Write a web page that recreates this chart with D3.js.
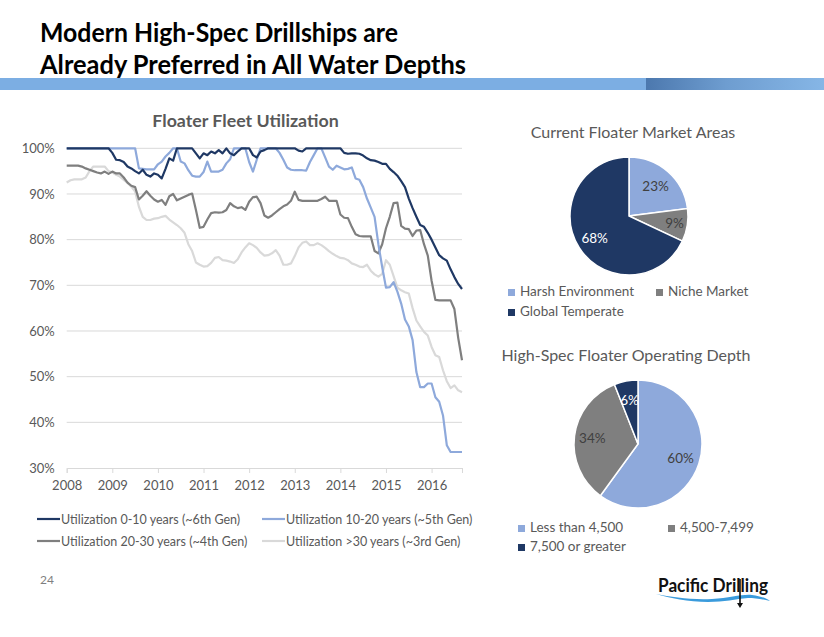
<!DOCTYPE html>
<html><head><meta charset="utf-8">
<script src="https://cdn.jsdelivr.net/npm/d3@7/dist/d3.min.js"></script>
<style>body{margin:0;background:#fff}svg{display:block}text{font-family:Lato,"Open Sans",sans-serif}</style>
</head><body><svg id="c" width="824" height="637"></svg>
<script>
// ---------- DATA ----------
const yearLabels = ["2008","2009","2010","2011","2012","2013","2014","2015","2016"];
const yTicks = [0.3,0.4,0.5,0.6,0.7,0.8,0.9,1.0];
const seriesNames = ["Utilization 0-10 years (~6th Gen)","Utilization 10-20 years (~5th Gen)","Utilization 20-30 years (~4th Gen)","Utilization >30 years (~3rd Gen)"];
// monthly utilization (%) from Jan 2008
const gen6 = [
100,100,100,100,100,100,100,100,100,100,100,100,
99,97.5,97.4,97,96,95.6,95,94.5,95.3,94.2,93.8,94.5,
94.2,93.4,95.5,97.8,97.3,100,100,100,100,100,98.9,97.8,
98.9,98.5,99.3,98.9,99.6,98.9,100,98.9,98.5,99.3,100,100,
100,98.5,98,99.3,99.6,100,100,100,100,100,100,100,
100,99.5,99.3,100,100,100,100,100,100,100,100,100,
100,99,98.8,98.9,98.9,98.8,98.4,97.8,97.4,97.3,97,96.6,
96.6,95.5,94.8,94,92.8,91.5,89,86.9,85,83.2,82.8,81.5,
80,78.3,76.6,75.9,75.4,73.5,71.8,70.3,69.2];
const gen5 = [
100,100,100,100,100,100,100,100,100,100,100,100,
100,100,100,100,100,100,100,95.6,95.5,95.4,95.4,95.4,
96.5,97.1,98.2,99,100,100,97.1,96.7,95.2,94,93.8,93.8,
94.8,97.1,94.9,94.9,94.9,95.3,96.7,97.6,100,100,100,100,
97,94.9,97.5,100,100,100,100,100,99,97.5,95.8,95.3,
95.2,95.2,95.2,95.1,97,98.5,100,100,98,96,95.3,96.2,
95.8,95.4,95.5,95.8,93.4,93.1,91.5,89,87,85,79,74,
69.5,69.6,70.7,68.6,66,62.5,61,58,51,47.7,47.7,48.5,
48.5,45.5,44.5,41.5,35,33.5,33.5,33.5,33.5];
const gen4 = [
96.2,96.2,96.2,96.2,96,95.6,95.3,95,94.7,94.5,94.9,94.4,
94.9,94.5,94.5,93.6,92.5,91.8,91.5,88.8,89.6,90.6,89.6,88.8,
88.3,88.7,87.6,89.5,90,88.6,89,89.4,89.8,90.1,86.5,82.6,
82.8,84.4,85.8,86,85.9,86,86.5,88,87.3,86.9,87.1,86.5,
88.3,89.3,89.4,88,85.3,84.8,85.3,86,86.7,87.3,87.7,88.5,
90.5,88.7,88.5,88.5,88.5,88.5,88.5,88.9,89.4,88.5,88.5,88.5,
85.5,84.8,84.7,82.8,81.2,80.8,80.7,80.7,80.7,77.5,77,79,
82.5,85,88,88.1,83,82.4,82.3,80.8,82,82.1,79,76.5,
71,66.8,66.7,66.7,66.7,66.7,64.8,58.5,53.6];
const gen3 = [
92.5,93,93.2,93.2,93.2,93.6,95,96,96,96,96,95,
94.7,94.2,93.8,93.1,92.4,91.6,90.5,87.2,85,84.3,84.3,84.6,
84.7,85,85.2,84.4,83.8,83.2,82.5,81.5,79,77.5,75,74.5,
74.1,74.2,74.9,76,76.2,75.5,75.4,75.2,74.9,75.7,77.2,78.3,
79.2,78.8,78.2,77.2,76.5,76.6,77,77.7,76.5,74.5,74.5,74.8,
76.4,78.3,79.3,79.6,78.8,78.8,79.2,78.8,78.2,77.5,76.9,76.4,
76,75.9,75.5,74.8,74.5,74.1,74,74.5,73.2,72.4,71.9,72.5,
75.5,74.5,72,69.5,68.9,68.5,68.2,65,62.3,61,59.8,59,
56.5,54.7,54.3,51.4,49,47.5,48.1,47,46.6];
const seriesColors = ["#1F3864","#8EA9DB","#7F7F7F","#D9D9D9"];

const pie1Labels = ["Harsh Environment","Niche Market","Global Temperate"];
const pie1Values = [23,9,68];
const pie2Labels = ["Less than 4,500","4,500-7,499","7,500 or greater"];
const pie2Values = [60,34,6];
const pieColors = ["#8EA9DB","#7F7F7F","#1F3864"];
const pieTextColors = ["#404040","#404040","#ffffff"];

// ---------- DRAW ----------
const svg = d3.select("#c");
const textGray = "#595959";

// header band
const defs = svg.append("defs");
const grad = defs.append("linearGradient").attr("id","bandGrad").attr("x1","0").attr("x2","1").attr("y1","0").attr("y2","0");
grad.append("stop").attr("offset","0%").attr("stop-color","#4C78AE");
grad.append("stop").attr("offset","45%").attr("stop-color","#6E9DD0");
grad.append("stop").attr("offset","100%").attr("stop-color","#86B6E6");
svg.append("rect").attr("x",0).attr("y",78).attr("width",646).attr("height",12).attr("fill","#7CAEE3");
svg.append("rect").attr("x",646).attr("y",78).attr("width",178).attr("height",12).attr("fill","url(#bandGrad)");

// Slide title
svg.append("text").attr("x",40).attr("y",42).attr("font-size",26.5).attr("font-weight","bold").attr("fill","#000")
  .attr("textLength",358).attr("lengthAdjust","spacingAndGlyphs").text("Modern High-Spec Drillships are");
svg.append("text").attr("x",40).attr("y",74).attr("font-size",26.5).attr("font-weight","bold").attr("fill","#000")
  .attr("textLength",426).attr("lengthAdjust","spacingAndGlyphs").text("Already Preferred in All Water Depths");

// Line chart
const x = d3.scaleLinear().domain([0,104]).range([66.7,462]);
const y = d3.scaleLinear().domain([0.3,1.0]).range([468,148.3]);

svg.append("text").attr("x",245.5).attr("y",127).attr("text-anchor","middle").attr("font-size",17.8).attr("font-weight","bold").attr("fill",textGray).text("Floater Fleet Utilization");

// grid
svg.append("g").selectAll("line").data(yTicks.slice(1)).join("line")
  .attr("x1",x(0)).attr("x2",x(104)).attr("y1",d=>y(d)).attr("y2",d=>y(d))
  .attr("stroke","#D9D9D9").attr("stroke-width",1);

// y axis labels
const yAxis = d3.axisLeft(y).tickValues(yTicks).tickFormat(d3.format(".0%")).tickSize(0).tickPadding(12);
const gy = svg.append("g").attr("transform",`translate(${x(0)},0)`).call(yAxis);
gy.select(".domain").remove();
gy.selectAll("text").attr("font-size",13).attr("fill",textGray).attr("font-family","Lato");

// x axis
const xAxis = d3.axisBottom(x).tickValues(yearLabels.map((d,i)=>i*12).concat([104])).tickFormat((d,i)=>yearLabels[i]||"").tickSize(5).tickPadding(8);
const gx = svg.append("g").attr("transform",`translate(0,${y(0.3)})`).call(xAxis);
gx.select(".domain").attr("stroke","#D9D9D9");
gx.selectAll(".tick line").attr("stroke","#D9D9D9");
gx.selectAll("text").attr("font-size",13).attr("fill",textGray).attr("font-family","Lato");

const line = d3.line().x((d,i)=>x(i)).y(d=>y(d/100));
const allSeries = [gen6,gen5,gen4,gen3];
[3,2,1,0].forEach(k=>{
  svg.append("path").datum(allSeries[k]).attr("d",line).attr("fill","none")
    .attr("stroke",seriesColors[k]).attr("stroke-width",2.2).attr("stroke-linejoin","round");
});

// legend
const legPos = [[37,519],[262,519],[37,541],[262,541]];
seriesNames.forEach((n,i)=>{
  const [lx,ly]=legPos[i];
  svg.append("line").attr("x1",lx).attr("x2",lx+23).attr("y1",ly).attr("y2",ly).attr("stroke",seriesColors[i]).attr("stroke-width",2.2);
  svg.append("text").attr("x",lx+24).attr("y",ly+4.5).attr("font-size",12.5).attr("fill",textGray).text(n);
});

// page number
svg.append("text").attr("x",40).attr("y",584).attr("font-size",12).attr("fill","#7F7F7F").text("24");

// Pies
function drawPie(cx,cy,r,values,labelPos,title,tx,ty,labels,legPos){
  svg.append("text").attr("x",tx).attr("y",ty).attr("text-anchor","middle").attr("font-size",16).attr("fill",textGray).text(title);
  const pie = d3.pie().sort(null).value(d=>d);
  const arcs = pie(values);
  const arc = d3.arc().innerRadius(0).outerRadius(r);
  const g = svg.append("g").attr("transform",`translate(${cx},${cy})`);
  g.selectAll("path").data(arcs).join("path").attr("d",arc).attr("fill",(d,i)=>pieColors[i]).attr("stroke","#fff").attr("stroke-width",1.5);
  g.selectAll("text").data(arcs).join("text")
    .attr("transform",(d,i)=>{const la=d3.arc().innerRadius(r*labelPos[i]).outerRadius(r*labelPos[i]);return `translate(${la.centroid(d)})`;})
    .attr("text-anchor","middle").attr("dy","0.35em")
    .attr("font-size",13.5).attr("fill",(d,i)=>pieTextColors[i]).text(d=>d.value+"%");
  labels.forEach((l,i)=>{
    const [lx,ly]=legPos[i];
    svg.append("rect").attr("x",lx).attr("y",ly-7).attr("width",7).attr("height",7).attr("fill",pieColors[i]);
    svg.append("text").attr("x",lx+12).attr("y",ly).attr("font-size",13.5).attr("fill",textGray).text(l);
  });
}
drawPie(629,216,59,pie1Values,[0.68,0.78,0.69],"Current Floater Market Areas",633,138,pie1Labels,[[508,296],[656,296],[508,316]]);
drawPie(638,444,64,pie2Values,[0.7,0.72,0.7],"High-Spec Floater Operating Depth",626,361,pie2Labels,[[518,532],[668,532],[518,551]]);

// Logo
svg.append("path").attr("d","M656,594 C672,597 690,600 712,599 C730,598 742,594 752,595 C760,596 766,598 770,601 C762,599 755,598 748,598 C735,599 725,602 708,602 C688,602 670,598 656,594 Z").attr("fill","#3A9BDC");
svg.append("text").attr("x",658).attr("y",592).attr("font-size",18).attr("font-weight","bold").attr("fill","#111")
  .attr("textLength",110).attr("lengthAdjust","spacingAndGlyphs").text("Pacific Drilling");
svg.append("line").attr("x1",740).attr("x2",740).attr("y1",579).attr("y2",604).attr("stroke","#111").attr("stroke-width",1.6);
svg.append("path").attr("d","M737,603 L743,603 L740,608 Z").attr("fill","#111");
</script></body></html>
